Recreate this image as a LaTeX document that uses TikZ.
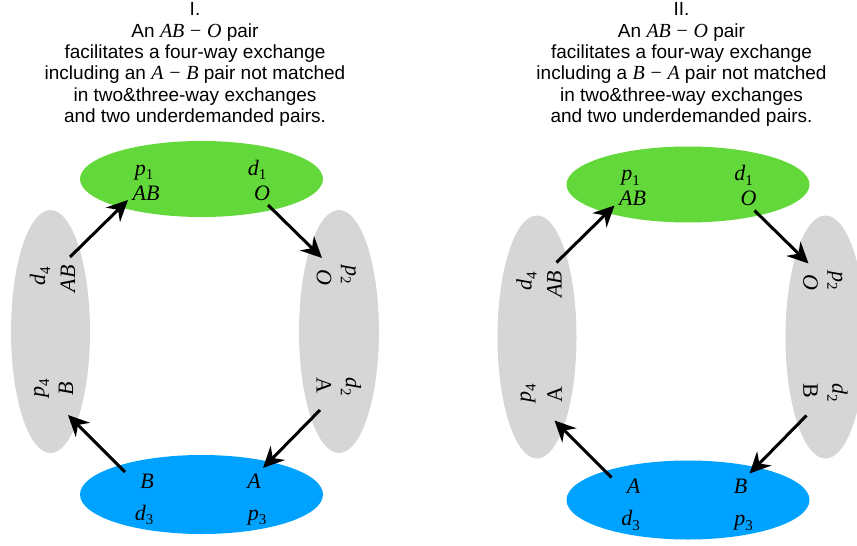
\documentclass[tikz,border=0pt]{standalone}
\usepackage{fontspec}
\setmainfont{Liberation Sans}
\newfontfamily\lserif{Liberation Serif}
\usetikzlibrary{shapes.geometric,arrows.meta}
\definecolor{ggreen}{RGB}{99,216,58}
\definecolor{gblue}{RGB}{0,162,255}
\definecolor{ggray}{RGB}{214,214,214}
\newcommand\sbs[1]{\raisebox{-0.22em}{\fontsize{15}{15}\selectfont\upshape #1}}
\newcommand\mi[1]{{\lserif\itshape\fontsize{20}{21.4}\selectfont #1}}
\newcommand\mmin{\hspace{0.3em}{\lserif\fontsize{20}{21.4}\selectfont −}\hspace{0.3em}}
\tikzset{
  blob/.style={ellipse, inner sep=0pt, draw=none},
  lbl/.style={inner sep=0pt, font=\lserif\itshape\fontsize{22}{26}\selectfont},
  rom/.style={inner sep=0pt, font=\lserif\upshape\fontsize{22}{26}\selectfont},
  titletext/.style={inner sep=0pt, align=center, anchor=north, font=\fontsize{19}{21.4}\selectfont},
  flow/.style={line width=3pt, -{Stealth[length=21pt,width=20pt,inset=7pt]}},
}
\begin{document}
\begin{tikzpicture}[x=1pt,y=-1pt]
\useasboundingbox (0,0) rectangle (857,546);

\node[titletext] (t1) at (195,2.5) {I.\\An \mi{AB}\mmin\mi{O} pair\\facilitates a four-way exchange\\including an \mi{A}\mmin\mi{B} pair not matched\\in two\&three-way exchanges\\and two underdemanded pairs.};
\node[titletext] (t2) at (681.5,2.5) {II.\\An \mi{AB}\mmin\mi{O} pair\\facilitates a four-way exchange\\including a \mi{B}\mmin\mi{A} pair not matched\\in two\&three-way exchanges\\and two underdemanded pairs.};

% ---------- Panel I ----------
\begin{scope}[name prefix=I-]
\node[blob, fill=ggreen, minimum width=243pt, minimum height=76pt] (top) at (201.5,179) {};
\node[blob, fill=gblue, minimum width=243pt, minimum height=79pt] (bot) at (201.5,494.5) {};
\node[blob, fill=ggray, minimum width=79pt, minimum height=243pt] (lft) at (50.5,331.5) {};
\node[blob, fill=ggray, minimum width=80pt, minimum height=243pt] (rgt) at (339,331.5) {};

\node[lbl, anchor=base] (p1) at (144,175) {p\sbs{1}};
\node[lbl, anchor=base] (ab1) at (146,200) {AB};
\node[lbl, anchor=base] (d1) at (257,175) {d\sbs{1}};
\node[lbl, anchor=base] (o1) at (262,200) {O};

\node[lbl, anchor=base] (x3) at (147,488) {B};
\node[lbl, anchor=base] (d3) at (144,520) {d\sbs{3}};
\node[lbl, anchor=base] (y3) at (254,488) {A};
\node[lbl, anchor=base] (p3) at (257,520) {p\sbs{3}};

\node[lbl, rotate=90] (d4) at (40,276) {d\sbs{4}};
\node[lbl, rotate=90] (ab4) at (68,279) {AB};
\node[lbl, rotate=90] (p4) at (41.5,388) {p\sbs{4}};
\node[lbl, rotate=90] (x4) at (66,389) {B};

\node[lbl, rotate=-90] (p2) at (348.5,275) {p\sbs{2}};
\node[lbl, rotate=-90] (o2) at (324,277) {O};
\node[lbl, rotate=-90] (d2) at (351,387) {d\sbs{2}};
\node[rom, rotate=-90] (y2) at (324,385) {A};

\coordinate (a1s) at (70,257);  \coordinate (a1e) at (128,200);
\coordinate (a2s) at (268,205); \coordinate (a2e) at (322,258);
\coordinate (a3s) at (320,410); \coordinate (a3e) at (263,468);
\coordinate (a4s) at (125,472); \coordinate (a4e) at (68,415);
\draw[flow] (a1s) -- (a1e);
\draw[flow] (a2s) -- (a2e);
\draw[flow] (a3s) -- (a3e);
\draw[flow] (a4s) -- (a4e);
\end{scope}

% ---------- Panel II ----------
\begin{scope}[shift={(486.5,5.5)}, name prefix=II-]
\node[blob, fill=ggreen, minimum width=243pt, minimum height=76pt] (top) at (201.5,179) {};
\node[blob, fill=gblue, minimum width=243pt, minimum height=79pt] (bot) at (201.5,494.5) {};
\node[blob, fill=ggray, minimum width=79pt, minimum height=243pt] (lft) at (50.5,331.5) {};
\node[blob, fill=ggray, minimum width=80pt, minimum height=243pt] (rgt) at (339,331.5) {};

\node[lbl, anchor=base] (p1) at (144,175) {p\sbs{1}};
\node[lbl, anchor=base] (ab1) at (146,200) {AB};
\node[lbl, anchor=base] (d1) at (257,175) {d\sbs{1}};
\node[lbl, anchor=base] (o1) at (262,200) {O};

\node[lbl, anchor=base] (x3) at (147,488) {A};
\node[lbl, anchor=base] (d3) at (144,520) {d\sbs{3}};
\node[lbl, anchor=base] (y3) at (254,488) {B};
\node[lbl, anchor=base] (p3) at (257,520) {p\sbs{3}};

\node[lbl, rotate=90] (d4) at (40,276) {d\sbs{4}};
\node[lbl, rotate=90] (ab4) at (68,279) {AB};
\node[lbl, rotate=90] (p4) at (41.5,388) {p\sbs{4}};
\node[rom, rotate=90] (x4) at (68,389) {A};

\node[lbl, rotate=-90] (p2) at (348.5,275) {p\sbs{2}};
\node[lbl, rotate=-90] (o2) at (324,277) {O};
\node[lbl, rotate=-90] (d2) at (351,387) {d\sbs{2}};
\node[rom, rotate=-90] (y2) at (324,385) {B};

\coordinate (a1s) at (70,257);  \coordinate (a1e) at (128,200);
\coordinate (a2s) at (268,205); \coordinate (a2e) at (322,258);
\coordinate (a3s) at (320,410); \coordinate (a3e) at (263,468);
\coordinate (a4s) at (125,472); \coordinate (a4e) at (68,415);
\draw[flow] (a1s) -- (a1e);
\draw[flow] (a2s) -- (a2e);
\draw[flow] (a3s) -- (a3e);
\draw[flow] (a4s) -- (a4e);
\end{scope}
\end{tikzpicture}
\end{document}
